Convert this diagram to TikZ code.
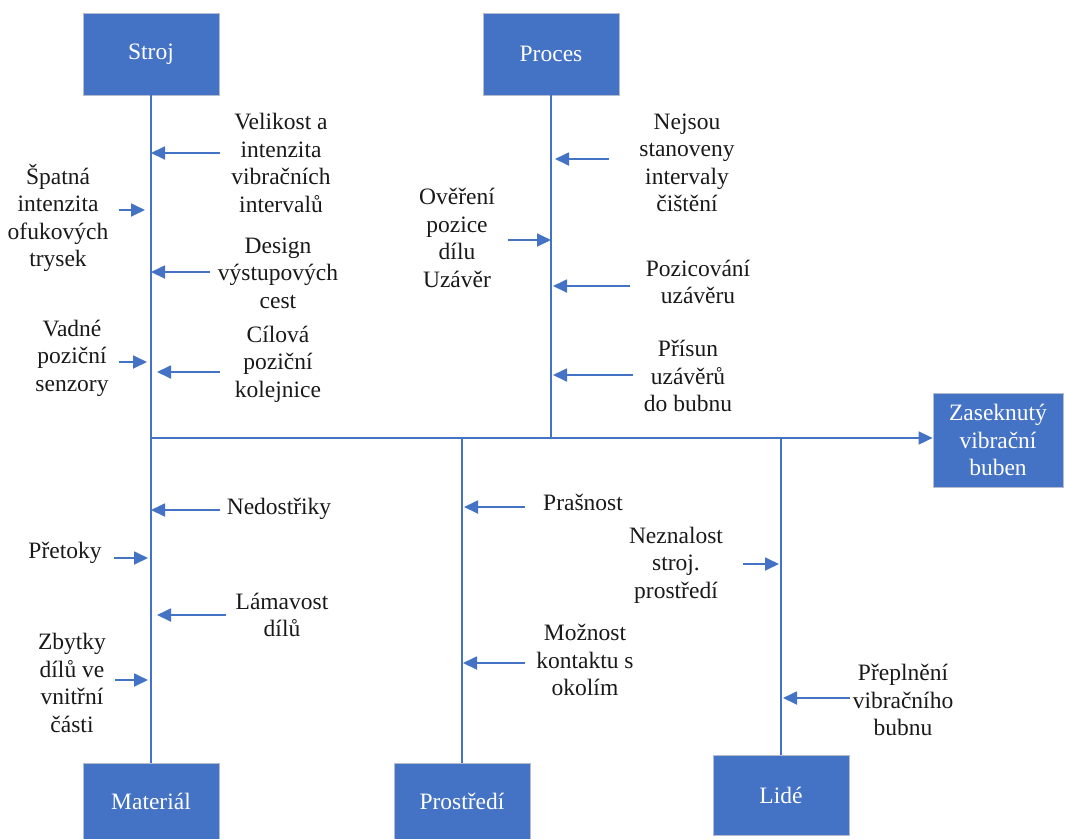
\documentclass[tikz,border=0pt]{standalone}
\usepackage{fontspec}
\setmainfont{Liberation Serif}
\usetikzlibrary{arrows.meta}

\definecolor{boneblue}{RGB}{68,114,196}
\definecolor{boxedge}{RGB}{180,188,205}
\definecolor{labelink}{RGB}{25,25,25}

\tikzset{
  x=1pt, y=-1pt,
  catbox/.style={rectangle, fill=boneblue, draw=boxedge, line width=0.8pt,
    minimum width=136pt, text=white, align=center,
    font=\fontsize{23.5}{27.5}\selectfont, inner sep=0pt},
  cause/.style={align=center, text=labelink, inner sep=0pt,
    font=\fontsize{23.5}{27.5}\selectfont},
  bone/.style={draw=boneblue, line width=1.8pt},
  tick/.style={draw=boneblue, line width=1.8pt,
    -{Triangle[length=14pt,width=13pt]}},
}

\begin{document}
\begin{tikzpicture}
\useasboundingbox (0,0) rectangle (1065,838);

% category boxes
\node[catbox, minimum height=82pt] (stroj)    at (151,54)  {Stroj};
\node[catbox, minimum height=82pt] (proces)   at (551,54)  {Proces};
\node[catbox, minimum height=77pt] (material) at (151,801.5) {Materiál};
\node[catbox, minimum height=77pt] (prostredi) at (462,801.5) {Prostředí};
\node[catbox, minimum height=80pt] (lide)     at (781,795) {Lidé};
\node[catbox, minimum width=130pt, minimum height=94pt] (effect) at (998,440)
  {Zaseknutý\\vibrační\\buben};

% main spine and bones
\coordinate (head) at (151,438);
\draw[bone] (stroj.south) -- (material.north);
\draw[bone] (proces.south) -- (proces.south |- head);
\draw[bone] (prostredi.north) -- (prostredi.north |- head);
\draw[bone] (lide.north) -- (lide.north |- head);
\draw[tick] (head) -- (head -| effect.west);

% causes: Stroj
\node[cause] (s1) at (281,163) {Velikost a\\intenzita\\vibračních\\intervalů};
\node[cause] (s2) at (58,218)  {Špatná\\intenzita\\ofukových\\trysek};
\node[cause] (s3) at (278,273) {Design\\výstupových\\cest};
\node[cause] (s4) at (72,358)  {Vadné\\poziční\\senzory};
\node[cause] (s5) at (278,364) {Cílová\\poziční\\kolejnice};

% causes: Proces
\node[cause] (p1) at (687,163) {Nejsou\\stanoveny\\intervaly\\čištění};
\node[cause] (p2) at (457,238) {Ověření\\pozice\\dílu\\Uzávěr};
\node[cause] (p3) at (698,282) {Pozicování\\uzávěru};
\node[cause] (p4) at (688,376) {Přísun\\uzávěrů\\do bubnu};

% causes: Materiál
\node[cause] (m1) at (279,509) {Nedostřiky};
\node[cause] (m2) at (65,553)  {Přetoky};
\node[cause] (m3) at (282,615) {Lámavost\\dílů};
\node[cause] (m4) at (72,683)  {Zbytky\\dílů ve\\vnitřní\\části};

% causes: Prostředí
\node[cause] (e1) at (583,502) {Prašnost};
\node[cause] (e2) at (585,660) {Možnost\\kontaktu s\\okolím};

% causes: Lidé
\node[cause] (h1) at (676,565) {Neznalost\\stroj.\\prostředí};
\node[cause] (h2) at (903,700) {Přeplnění\\vibračního\\bubnu};

% arrow end points
\coordinate (s1a) at (220,153); \coordinate (s1b) at (151,153);
\coordinate (s2a) at (119,210); \coordinate (s2b) at (145,210);
\coordinate (s3a) at (210,272); \coordinate (s3b) at (151,272);
\coordinate (s4a) at (119,362); \coordinate (s4b) at (147,362);
\coordinate (s5a) at (220,372); \coordinate (s5b) at (157,372);

\coordinate (p1a) at (609,159); \coordinate (p1b) at (555,159);
\coordinate (p2a) at (508,240); \coordinate (p2b) at (551,240);
\coordinate (p3a) at (630,286); \coordinate (p3b) at (553,286);
\coordinate (p4a) at (633,375); \coordinate (p4b) at (553,375);

\coordinate (m1a) at (220,510); \coordinate (m1b) at (151,510);
\coordinate (m2a) at (114,558); \coordinate (m2b) at (148,558);
\coordinate (m3a) at (226,615); \coordinate (m3b) at (157,615);
\coordinate (m4a) at (115,680); \coordinate (m4b) at (148,680);

\coordinate (e1a) at (525,507); \coordinate (e1b) at (464,507);
\coordinate (e2a) at (525,663); \coordinate (e2b) at (463,663);

\coordinate (h1a) at (743,564); \coordinate (h1b) at (779,564);
\coordinate (h2a) at (850,698); \coordinate (h2b) at (783,698);

\foreach \k in {s1,s2,s3,s4,s5,p1,p2,p3,p4,m1,m2,m3,m4,e1,e2,h1,h2}
  \draw[tick] (\k a) -- (\k b);

\end{tikzpicture}
\end{document}
